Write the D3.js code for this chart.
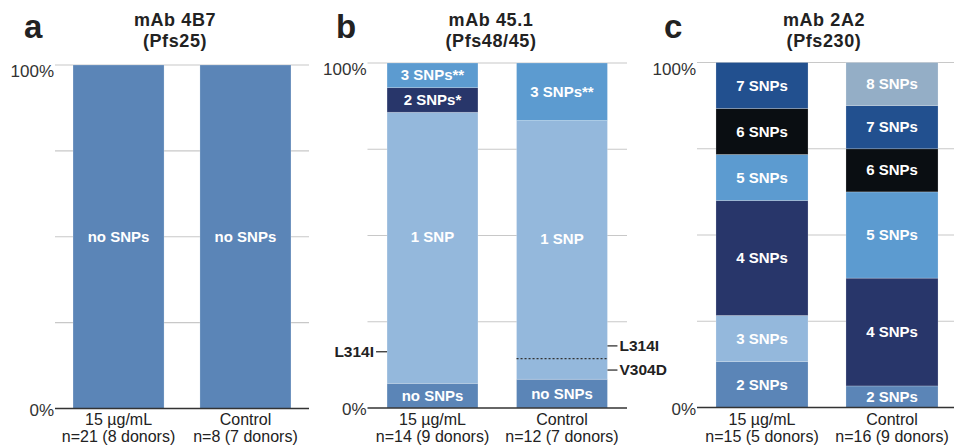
<!DOCTYPE html>
<html>
<head>
<meta charset="utf-8">
<script src="https://cdn.jsdelivr.net/npm/d3@7"></script>
<style>
  body { margin: 0; background: #fff; }
  svg text { font-family: "Liberation Sans", Arial, sans-serif; }
</style>
</head>
<body>
<div id="chart"></div>
<script>
// data
const groups = ["15 µg/mL", "Control"];
const yTicks = [0, 0.25, 0.5, 0.75, 1];
const yTickLabels = ["0%", "", "", "", "100%"];

const aTitle = ["mAb 4B7", "(Pfs25)"];
const aN = ["n=21 (8 donors)", "n=8 (7 donors)"];
const aCats = ["no SNPs"];
const aCounts = [[21], [8]];

const bTitle = ["mAb 45.1", "(Pfs48/45)"];
const bN = ["n=14 (9 donors)", "n=12 (7 donors)"];
const bCats = ["no SNPs", "1 SNP", "2 SNPs*", "3 SNPs**"];
const bCounts = [[1, 11, 1, 1], [1, 9, 0, 2]];
// mutation markers inside the 1 SNP segment (fraction of the bar)
const bMarkLeft = { label: "L314I", value: 0.163 };
const bMarkRight = [{ label: "L314I", value: 0.18 }, { label: "V304D", value: 0.11 }];
const bDivider = 0.143;

const cTitle = ["mAb 2A2", "(Pfs230)"];
const cN = ["n=15 (5 donors)", "n=16 (9 donors)"];
const cCats = ["2 SNPs", "3 SNPs", "4 SNPs", "5 SNPs", "6 SNPs", "7 SNPs", "8 SNPs"];
const cCounts = [[2, 2, 5, 2, 2, 2, 0], [1, 0, 5, 4, 2, 2, 2]];

const colors = {
  "no SNPs": "#5b85b7",
  "1 SNP": "#94b8dc",
  "2 SNPs*": "#28366a",
  "3 SNPs**": "#5c9bd0",
  "2 SNPs": "#5b85b7",
  "3 SNPs": "#94b8dc",
  "4 SNPs": "#28366a",
  "5 SNPs": "#5c9bd0",
  "6 SNPs": "#0a0e12",
  "7 SNPs": "#22508f",
  "8 SNPs": "#94aec6"
};

const svg = d3.select("#chart").append("svg")
  .attr("width", 954)
  .attr("height", 448);

// one panel per antibody
function drawPanel(p) {
  const g = svg.append("g");

  const x = d3.scaleBand()
    .domain(groups)
    .range([p.x0, p.x1])
    .paddingInner(p.padIn)
    .paddingOuter(p.padOut);

  const y = d3.scaleLinear()
    .domain([0, 1])
    .range([p.yBottom, p.yTop]);

  // grid lines
  g.selectAll(".grid")
    .data(yTicks.slice(1))
    .enter()
    .append("line")
    .attr("x1", p.axisX0)
    .attr("x2", p.axisX1)
    .attr("y1", d => y(d))
    .attr("y2", d => y(d))
    .attr("stroke", "#c8c8c8")
    .attr("stroke-width", 1.2);

  // stacked proportions
  const rows = groups.map((grp, i) => {
    const total = d3.sum(p.counts[i]);
    const row = { group: grp };
    p.cats.forEach((c, j) => row[c] = p.counts[i][j] / total);
    return row;
  });
  const series = d3.stack().keys(p.cats)(rows);

  series.forEach(s => {
    s.forEach(d => {
      if (d[1] - d[0] <= 0) return;
      const gx = x(d.data.group);
      g.append("rect")
        .attr("x", gx)
        .attr("y", y(d[1]))
        .attr("width", x.bandwidth())
        .attr("height", y(d[0]) - y(d[1]))
        .attr("fill", colors[s.key])
        .attr("stroke", "rgba(255,255,255,0.25)")
        .attr("stroke-width", 0.8);
      const shift = (p.labelShift && p.labelShift[s.key]) || 0;
      g.append("text")
        .attr("x", gx + x.bandwidth() / 2)
        .attr("y", (y(d[0]) + y(d[1])) / 2 + 5 + shift)
        .attr("text-anchor", "middle")
        .attr("fill", "#fff")
        .attr("font-size", 15)
        .attr("font-weight", "bold")
        .text(s.key);
    });
  });

  // baseline
  g.append("line")
    .attr("x1", p.axisX0)
    .attr("x2", p.axisX1)
    .attr("y1", y(0))
    .attr("y2", y(0))
    .attr("stroke", "#333")
    .attr("stroke-width", 1.5);

  // y labels
  g.append("text")
    .attr("x", p.axisX0 - 1)
    .attr("y", y(1) + 12)
    .attr("text-anchor", "end")
    .attr("fill", "#333")
    .attr("font-size", 17)
    .text(yTickLabels[4]);
  g.append("text")
    .attr("x", p.axisX0 - 1)
    .attr("y", y(0) + 7)
    .attr("text-anchor", "end")
    .attr("fill", "#333")
    .attr("font-size", 17)
    .text(yTickLabels[0]);

  // category labels
  groups.forEach((grp, i) => {
    const cx = x(grp) + x.bandwidth() / 2;
    g.append("text")
      .attr("x", cx).attr("y", 425)
      .attr("text-anchor", "middle")
      .attr("fill", "#222")
      .attr("font-size", 16)
      .text(grp);
    g.append("text")
      .attr("x", cx).attr("y", 442)
      .attr("text-anchor", "middle")
      .attr("fill", "#222")
      .attr("font-size", 16)
      .text(p.n[i]);
  });

  // title + panel letter
  g.append("text")
    .attr("x", p.titleX).attr("y", 26)
    .attr("text-anchor", "middle")
    .attr("font-size", 18).attr("font-weight", "bold").attr("fill", "#222")
    .attr("letter-spacing", 0.6)
    .text(p.title[0]);
  g.append("text")
    .attr("x", p.titleX).attr("y", 47)
    .attr("text-anchor", "middle")
    .attr("font-size", 18).attr("font-weight", "bold").attr("fill", "#222")
    .attr("letter-spacing", 0.6)
    .text(p.title[1]);
  g.append("text")
    .attr("x", p.letterX).attr("y", 38)
    .attr("font-size", 33).attr("font-weight", "bold").attr("fill", "#222")
    .text(p.letter);

  return { g, x, y };
}

drawPanel({ letter: "a", letterX: 24, title: aTitle, titleX: 175, n: aN, cats: aCats, counts: aCounts,
  x0: 55, x1: 309, padIn: 0.283, padOut: 0.142, axisX0: 55, axisX1: 309, yTop: 65, yBottom: 408.5 });

const pb = drawPanel({ letter: "b", letterX: 336, title: bTitle, titleX: 491, n: bN, cats: bCats, counts: bCounts,
  x0: 367.5, x1: 627, padIn: 0.298, padOut: 0.151, axisX0: 367.5, axisX1: 627, yTop: 63, yBottom: 408,
  labelShift: { "1 SNP": -11 } });

// L314I / V304D markers on panel b
{
  const { g, x, y } = pb;
  const xl = x(groups[0]);
  g.append("line")
    .attr("x1", xl - 11).attr("x2", xl)
    .attr("y1", y(bMarkLeft.value)).attr("y2", y(bMarkLeft.value))
    .attr("stroke", "#222").attr("stroke-width", 1.2);
  g.append("text")
    .attr("x", xl - 13).attr("y", y(bMarkLeft.value) + 5)
    .attr("text-anchor", "end")
    .attr("font-size", 15.5).attr("font-weight", "bold").attr("fill", "#222")
    .text(bMarkLeft.label);

  const xr = x(groups[1]);
  const xr1 = xr + x.bandwidth();
  g.append("line")
    .attr("x1", xr).attr("x2", xr1)
    .attr("y1", y(bDivider)).attr("y2", y(bDivider))
    .attr("stroke", "#333").attr("stroke-width", 1.2)
    .attr("stroke-dasharray", "2,2");
  bMarkRight.forEach(m => {
    g.append("line")
      .attr("x1", xr1).attr("x2", xr1 + 10)
      .attr("y1", y(m.value)).attr("y2", y(m.value))
      .attr("stroke", "#222").attr("stroke-width", 1.2);
    g.append("text")
      .attr("x", xr1 + 12).attr("y", y(m.value) + 5)
      .attr("font-size", 15.5).attr("font-weight", "bold").attr("fill", "#222")
      .text(m.label);
  });
}

drawPanel({ letter: "c", letterX: 664, title: cTitle, titleX: 824, n: cN, cats: cCats, counts: cCounts,
  x0: 697, x1: 957, padIn: 0.292, padOut: 0.146, axisX0: 697, axisX1: 954, yTop: 62.5, yBottom: 407.5 });
</script>
</body>
</html>
